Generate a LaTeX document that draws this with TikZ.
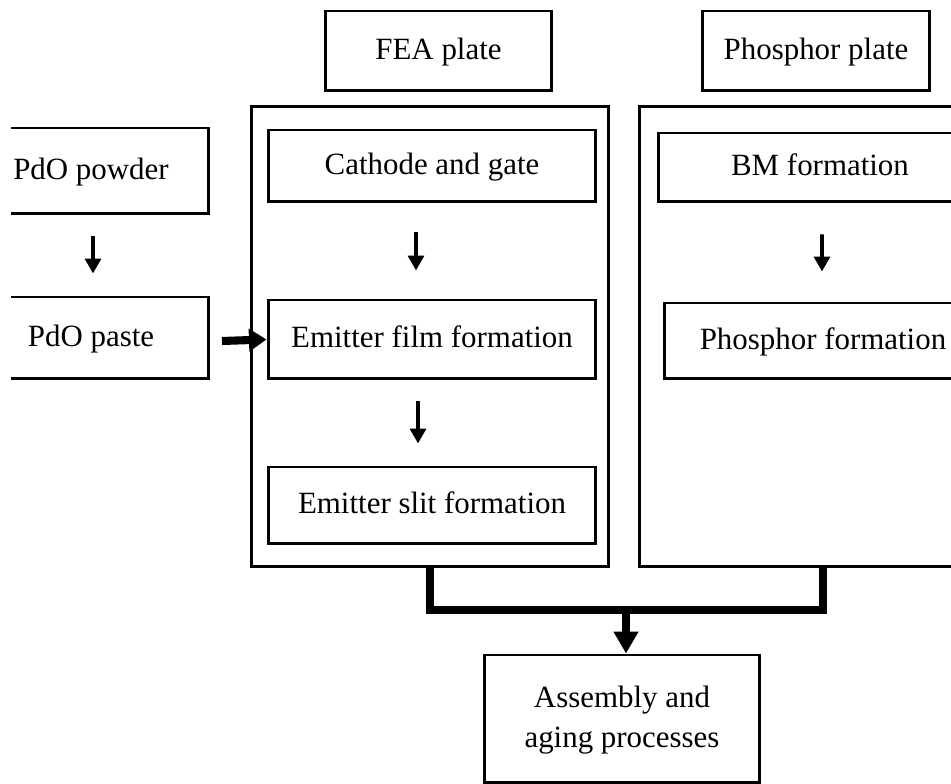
\documentclass[tikz,border=0pt]{standalone}
\usepackage{fontspec}
\setmainfont{Liberation Serif}
\usetikzlibrary{arrows.meta,positioning}

\begin{document}
\begin{tikzpicture}[x=0.02cm,y=0.02cm,
    every node/.style={font=\fontsize{17.6}{22.7}\selectfont},
    stepbox/.style={draw, line width=1.7pt, inner sep=0pt, align=center, text depth=0.1cm},
    smallarrow/.style={-{Triangle[width=9pt,length=8.5pt]}, line width=2.2pt},
    bigarrow/.style={-{Triangle[width=12.5pt,length=10pt]}, line width=4.6pt},
    bus/.style={line width=4pt, line join=miter}]
  \useasboundingbox (0,0) rectangle (951,784);
  \clip (11,0) rectangle (951,784);
  % plate labels
  \node[stepbox, minimum width=4.54cm, minimum height=1.6cm] (fea) at (438.5,733) {FEA plate};
  \node[stepbox, minimum width=4.56cm, minimum height=1.6cm] (phos) at (816,733) {Phosphor plate};
  % frames
  \node[draw, line width=1.7pt, minimum width=7.16cm, minimum height=9.22cm] (feaframe) at (430,447.5) {};
  \node[draw, line width=1.7pt, minimum width=7.36cm, minimum height=9.22cm] (phosframe) at (823,447.5) {};
  % PdO path
  \node[stepbox, minimum width=4.72cm, minimum height=1.72cm] (powder) at (91,613) {PdO powder};
  \node[stepbox, minimum width=4.72cm, minimum height=1.64cm] (paste) at (91,446) {PdO paste};
  % FEA steps
  \node[stepbox, minimum width=6.56cm, minimum height=1.44cm] (cathode) at (432,618) {Cathode and gate};
  \node[stepbox, minimum width=6.56cm, minimum height=1.58cm] (film) at (432,444.5) {Emitter film formation};
  \node[stepbox, minimum width=6.56cm, minimum height=1.54cm] (slit) at (432,278.5) {Emitter slit formation};
  % phosphor steps
  \node[stepbox, minimum width=6.48cm, minimum height=1.38cm] (bm) at (820,616.5) {BM formation};
  \node[stepbox, minimum width=6.36cm, minimum height=1.52cm] (phform) at (823,443) {Phosphor formation};
  % assembly
  \node[stepbox, minimum width=5.52cm, minimum height=2.56cm] (assembly) at (622,65) {Assembly and\\aging processes};
  \coordinate (join) at (626,174);
  \coordinate (pastetail) at (222,443);

  \draw[smallarrow, shorten <=0.42cm, shorten >=0.44cm] ([xshift=0.04cm]powder.south) -- ([xshift=0.04cm]paste.north);
  \draw[smallarrow, shorten <=0.58cm, shorten >=0.56cm] ([xshift=-0.32cm]cathode.south) -- ([xshift=-0.32cm]film.north);
  \draw[smallarrow, shorten <=0.42cm, shorten >=0.44cm] ([xshift=-0.28cm]film.south) -- ([xshift=-0.28cm]slit.north);
  \draw[smallarrow, shorten <=0.62cm, shorten >=0.6cm] ([xshift=0.04cm]bm.south) -- ([xshift=-0.02cm]phform.north);
  \draw[bigarrow] (pastetail) -- (film.west);
  \draw[bus] (feaframe.south) |- (join) -| (phosframe.south);
  \draw[-{Triangle[width=13.5pt,length=12.5pt]}, line width=4pt] (join) -- (join |- assembly.north);
\end{tikzpicture}
\end{document}
